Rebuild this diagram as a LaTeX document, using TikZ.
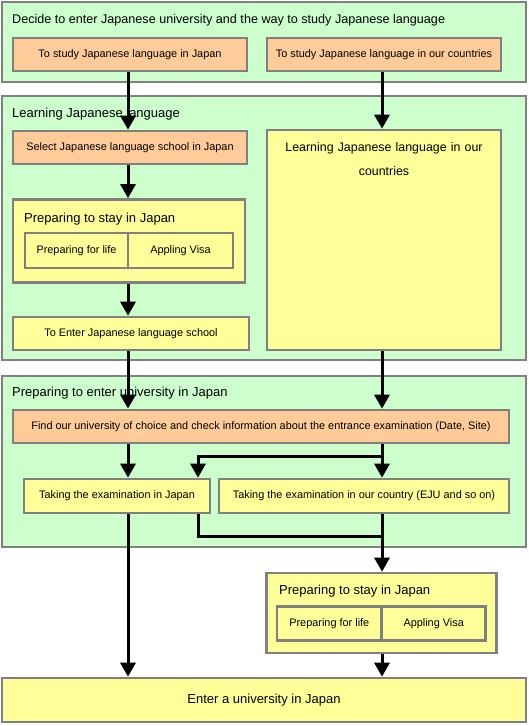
\documentclass[tikz,border=0pt]{standalone}
\usepackage{fontspec}
\setmainfont{Liberation Sans}
\usepackage{tikz}
\usetikzlibrary{arrows.meta,positioning}

\definecolor{panelgreen}{HTML}{CCFFCC}
\definecolor{steporange}{HTML}{FFCC99}
\definecolor{stepyellow}{HTML}{FFFF99}
\definecolor{edgegray}{HTML}{808080}

\begin{document}
\begin{tikzpicture}[
  x=1pt, y=-1pt,
  panel/.style={draw=edgegray, fill=panelgreen, line width=2.6pt, inner sep=0pt,
    minimum width=524pt},
  orangebox/.style={draw=edgegray, fill=steporange, line width=2.6pt, inner sep=0pt,
    minimum height=33pt, font=\fontsize{10.9}{12}\selectfont},
  yellowbox/.style={draw=edgegray, fill=stepyellow, line width=2.6pt, inner sep=0pt,
    minimum height=34pt, font=\fontsize{10.9}{12}\selectfont},
  title/.style={anchor=west, inner sep=0pt, font=\fontsize{13}{15}\selectfont},
  link/.style={draw, line width=3pt, -{Triangle[length=14pt,width=15pt]}},
  joinline/.style={draw, line width=3pt}
]
  \useasboundingbox (0,0) rectangle (528,726);

  % panels
  \node[panel, minimum height=80pt] (decidePanel) at (264,42) {};
  \node[panel, minimum height=264pt] (learnPanel) at (264,228) {};
  \node[panel, minimum height=171pt] (examPanel) at (264,461.5) {};

  \node[title, font=\fontsize{12.6}{15}\selectfont] (decideTitle) at (12,20) {Decide to enter Japanese university and the way to study Japanese language};
  \node[title] (learnTitle) at (12,114) {Learning Japanese language};
  \node[title] (examTitle) at (12,393) {Preparing to enter university in Japan};

  % first panel
  \node[orangebox, minimum width=234pt] (jpStudy) at (130,54.5) {To study Japanese language in Japan};
  \node[orangebox, minimum width=234pt] (ownStudy) at (384,54.5) {To study Japanese language in our countries};

  % second panel
  \node[orangebox, minimum width=234pt] (jpSelect) at (130,147.5) {Select Japanese language school in Japan};
  \node[yellowbox, minimum width=232pt, minimum height=83pt] (jpStay) at (129,241) {};
  \node[title] (jpStayTitle) at (24,219) {Preparing to stay in Japan};
  \node[yellowbox, minimum width=103pt, minimum height=35pt] (jpLife) at (76.5,250.5) {Preparing for life};
  \node[yellowbox, minimum width=105pt, minimum height=35pt] (jpVisa) at (180.5,250.5) {Appling Visa};
  \node[yellowbox, minimum width=236pt, minimum height=33pt] (jpSchool) at (131,333.5) {To Enter Japanese language school};
  \node[yellowbox, minimum width=234pt, minimum height=220pt] (ownLearn) at (384,240) {};
  \node[below=14pt of ownLearn.north, align=center, text width=210pt, inner sep=0pt,
    font=\fontsize{12.4}{24}\selectfont] (ownLearnText) {Learning Japanese language in our\\countries};

  % third panel
  \node[orangebox, minimum width=496pt] (findUniv) at (261,426.5)
    {Find our university of choice and check information about the entrance examination (Date, Site)};
  \node[yellowbox, minimum width=186pt] (examJp) at (117,496) {Taking the examination in Japan};
  \node[yellowbox, minimum width=290pt] (examOwn) at (364,496) {Taking the examination in our country (EJU and so on)};

  % below the panels
  \node[yellowbox, minimum width=230pt, minimum height=80pt] (uniStay) at (381.7,613) {};
  \node[title] (uniStayTitle) at (279,591) {Preparing to stay in Japan};
  \node[yellowbox, minimum width=104.7pt, minimum height=34pt] (uniLife) at (329.3,623.7) {Preparing for life};
  \node[yellowbox, minimum width=104pt, minimum height=34pt] (uniVisa) at (433.7,623.7) {Appling Visa};
  \node[yellowbox, minimum width=524pt, minimum height=44pt, font=\fontsize{13}{15}\selectfont]
    (enterUniv) at (264,700) {Enter a university in Japan};

  % connectors
  \coordinate (colL) at (128,0);
  \coordinate (colM) at (198,0);
  \coordinate (colR) at (382,0);
  \coordinate (splitPt) at (382,456);
  \coordinate (joinPt) at (382,536);

  \path[link] (jpStudy.south -| colL) -- (jpSelect.north -| colL);
  \path[link] (ownStudy.south -| colR) -- (ownLearn.north -| colR);
  \path[link] (jpSelect.south -| colL) -- (jpStay.north -| colL);
  \path[link] (jpStay.south -| colL) -- (jpSchool.north -| colL);
  \path[link] (jpSchool.south -| colL) -- (findUniv.north -| colL);
  \path[link] (ownLearn.south -| colR) -- (findUniv.north -| colR);
  \path[link] (findUniv.south -| colL) -- (examJp.north -| colL);
  \path[link] (findUniv.south -| colR) -- (examOwn.north -| colR);
  \path[link] (splitPt) -| (examJp.north -| colM);
  \path[joinline] (examJp.south -| colM) |- (joinPt);
  \path[link] (examOwn.south -| colR) -- (uniStay.north -| colR);
  \path[link] (examJp.south -| colL) -- (enterUniv.north -| colL);
  \path[link] (uniStay.south -| colR) -- (enterUniv.north -| colR);
\end{tikzpicture}
\end{document}
